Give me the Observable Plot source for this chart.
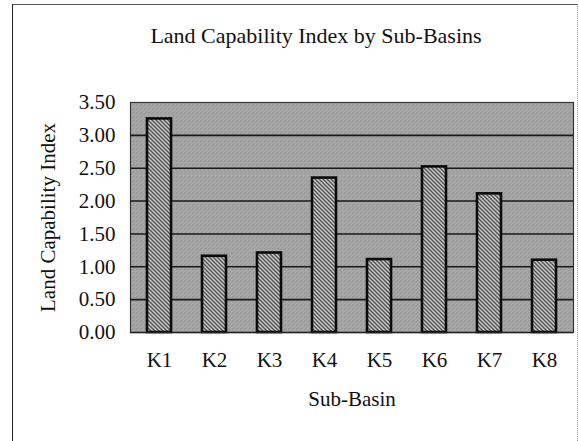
<!DOCTYPE html>
<html>
<head>
<meta charset="utf-8">
<script src="https://cdn.jsdelivr.net/npm/d3@7"></script>
<script src="https://cdn.jsdelivr.net/npm/@observablehq/plot@0.6"></script>
<style>
  html, body { margin: 0; padding: 0; background: #fff; overflow: hidden; }
  #wrap { position: relative; width: 579px; height: 441px; font-family: "Liberation Serif", "Times New Roman", serif; color: #111; }
  #frame { position: absolute; left: 12px; top: 4px; width: 564px; height: 440px;
           border-left: 1.5px solid #222; border-top: 1px solid #555; border-right: 1px dotted #999;
           pointer-events: none; z-index: 2; }
  #title { height: 60px; box-sizing: border-box; padding-top: 25px; position: relative;
           width: 632px; text-align: center; font-size: 22px; line-height: 22px; }
</style>
</head>
<body>
<div id="wrap">
  <div id="frame"></div>
  <div id="title">Land Capability Index by Sub-Basins</div>
  <div id="chart"></div>
</div>
<script>
const basins = ["K1", "K2", "K3", "K4", "K5", "K6", "K7", "K8"];
const values = [3.25, 1.16, 1.21, 2.35, 1.11, 2.52, 2.11, 1.10];
const yTicks = [0, 0.5, 1.0, 1.5, 2.0, 2.5, 3.0, 3.5];
const gridValues = [0.5, 1.0, 1.5, 2.0, 2.5, 3.0];
const yLabel = "Land Capability Index";
const xLabel = "Sub-Basin";

const data = basins.map((b, i) => ({basin: b, value: values[i]}));

const chart = Plot.plot({
  width: 579,
  height: 381,
  marginLeft: 130,
  marginRight: 6,
  marginTop: 42,
  marginBottom: 109,
  style: {fontFamily: "'Liberation Serif', 'Times New Roman', serif", fontSize: "21px", color: "#111", background: "transparent"},
  x: {domain: basins, paddingInner: 0.565, paddingOuter: 0.28, align: 0.5, tickSize: 0, tickPadding: 20, label: null},
  y: {domain: [0, 3.5], ticks: yTicks, tickFormat: d3.format(".2f"), tickSize: 0, tickPadding: 15, label: null},
  marks: [
    Plot.frame({fill: "#a8a8a8", stroke: "#333", strokeWidth: 1.2}),
    Plot.ruleY(gridValues, {stroke: "#1a1a1a", strokeWidth: 1.6}),
    Plot.barY(data, {x: "basin", y: "value", fill: "#b8b8b8", stroke: "#0a0a0a", strokeWidth: 2.6}),
    Plot.ruleY([0], {stroke: "#222", strokeWidth: 1.5}),
    Plot.text([yLabel], {frameAnchor: "left", textAnchor: "middle", dx: -82, rotate: -90, fontSize: 21, fill: "#111"}),
    Plot.text([xLabel], {frameAnchor: "bottom", textAnchor: "middle", dy: 73, fontSize: 21, fill: "#111"})
  ]
});

// patterns for the dithered background and hatched bars
const svg = d3.select(chart.tagName.toLowerCase() === "svg" ? chart : chart.querySelector("svg"));
const defs = svg.insert("defs", ":first-child");
const bg = defs.append("pattern").attr("id", "bgpat").attr("patternUnits", "userSpaceOnUse")
  .attr("width", 4).attr("height", 4);
bg.append("rect").attr("width", 4).attr("height", 4).attr("fill", "#e0e0e0");
[[0,0],[2,0],[1,1],[3,1],[0,2],[2,2],[1,3],[3,3]].forEach(([px, py], i) => {
  bg.append("rect").attr("x", px).attr("y", py).attr("width", 1).attr("height", 1)
    .attr("fill", i % 3 === 0 ? "#505050" : "#727272");
});
const hatch = defs.append("pattern").attr("id", "hatchpat").attr("patternUnits", "userSpaceOnUse")
  .attr("width", 4).attr("height", 4);
hatch.append("rect").attr("width", 4).attr("height", 4).attr("fill", "#c8c8c8");
hatch.append("path").attr("d", "M-1,-1 L5,5 M-1,3 L1,5 M3,-1 L5,1")
  .attr("stroke", "#505050").attr("stroke-width", 1.3);

svg.selectAll("[aria-label=frame], [aria-label=frame] rect").attr("fill", "url(#bgpat)");
svg.selectAll("[aria-label=bar], [aria-label=bar] rect").attr("fill", "url(#hatchpat)");

document.getElementById("chart").appendChild(chart);
</script>
</body>
</html>
